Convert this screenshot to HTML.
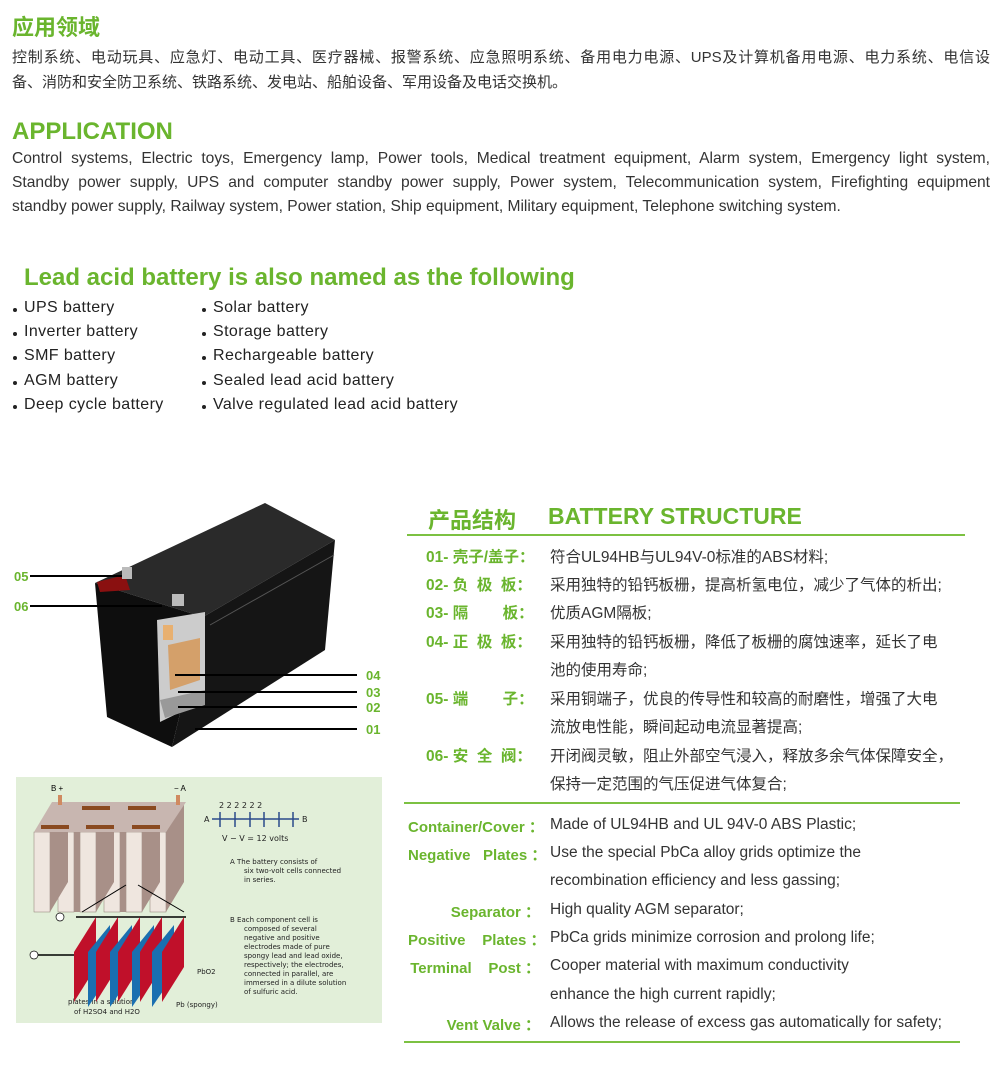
<!DOCTYPE html>
<html><head><meta charset="utf-8">
<style>
*{margin:0;padding:0;box-sizing:border-box}
body{width:1000px;height:1075px;background:#fff;position:relative;overflow:hidden;font-family:"Liberation Sans","Noto Sans CJK SC",sans-serif;color:#333}
.a{position:absolute;white-space:nowrap}
.g{color:#6ab52e;font-weight:bold}
.j{position:absolute;left:12px;width:978px;text-align:justify;text-align-last:justify;font-size:15px;white-space:nowrap;letter-spacing:0}
.je{font-size:15.6px}
.li{position:absolute;font-size:16px;color:#222;letter-spacing:.4px}
.li:before{content:"";position:absolute;left:-11px;top:9px;width:4px;height:4px;border-radius:50%;background:#222}
.cl{position:absolute;left:426px;width:118px;font-size:15.5px;color:#6ab52e;font-weight:bold}
.ct{position:absolute;left:550px;font-size:15.5px;color:#333;white-space:nowrap}
.el{position:absolute;left:408px;width:132px;text-align:right;font-size:15px;color:#6ab52e;font-weight:bold;white-space:nowrap}
.hr{position:absolute;height:2px;background:#7cc142}
</style></head><body>
<div class="a g" style="left:12px;top:10px;font-size:22px">应用领域</div>
<div class="j" style="top:46px">控制系统、电动玩具、应急灯、电动工具、医疗器械、报警系统、应急照明系统、备用电力电源、UPS及计算机备用电源、电力系统、电信设</div>
<div class="a" style="left:12px;top:71px;font-size:15px">备、消防和安全防卫系统、铁路系统、发电站、船舶设备、军用设备及电话交换机。</div>

<div class="a g" style="left:12px;top:118px;font-size:24px">APPLICATION</div>
<div class="j je" style="top:150px">Control systems, Electric toys, Emergency lamp, Power tools, Medical treatment equipment, Alarm system, Emergency light system,</div>
<div class="j je" style="top:174px">Standby power supply, UPS and computer standby power supply, Power system, Telecommunication system, Firefighting equipment</div>
<div class="a" style="left:12px;top:198px;font-size:15.6px">standby power supply, Railway system, Power station, Ship equipment, Military equipment, Telephone switching system.</div>

<div class="a g" style="left:24px;top:264px;font-size:24px">Lead acid battery is also named as the following</div>
<div class="li" style="left:24px;top:299px">UPS battery</div>
<div class="li" style="left:24px;top:323px">Inverter battery</div>
<div class="li" style="left:24px;top:347px">SMF battery</div>
<div class="li" style="left:24px;top:372px">AGM battery</div>
<div class="li" style="left:24px;top:396px">Deep cycle battery</div>
<div class="li" style="left:213px;top:299px">Solar battery</div>
<div class="li" style="left:213px;top:323px">Storage battery</div>
<div class="li" style="left:213px;top:347px">Rechargeable battery</div>
<div class="li" style="left:213px;top:372px">Sealed lead acid battery</div>
<div class="li" style="left:213px;top:396px">Valve regulated lead acid battery</div>

<!-- battery picture -->
<svg class="a" style="left:0;top:490px" width="400" height="280" viewBox="0 490 400 280">
<polygon points="95,583 265,503 335,540 203,617" fill="#2a2a2a"/>
<polygon points="203,617 335,540 325,650 172,747" fill="#151515"/>
<polygon points="95,583 203,617 172,747 107,717" fill="#0e0e0e"/>
<line x1="210" y1="625" x2="334" y2="555" stroke="#555" stroke-width="1"/>
<polygon points="97,582 125,575 130,590 100,592" fill="#8a1010"/>
<rect x="122" y="567" width="10" height="12" fill="#bbb"/>
<rect x="172" y="594" width="12" height="12" fill="#bbb"/>
<polygon points="157,620 205,612 205,700 160,722" fill="#ccc"/>
<polygon points="168,645 200,638 200,680 170,690" fill="#d4a06a"/>
<rect x="163" y="625" width="10" height="15" fill="#e8b070"/>
<polygon points="160,700 205,690 205,705 165,718" fill="#999"/>
<g stroke="#000" stroke-width="2">
<line x1="30" y1="576" x2="122" y2="576"/><line x1="30" y1="606" x2="162" y2="606"/>
<line x1="175" y1="675" x2="357" y2="675"/><line x1="178" y1="692" x2="357" y2="692"/>
<line x1="178" y1="707" x2="357" y2="707"/><line x1="195" y1="729" x2="357" y2="729"/>
</g>
<g fill="#6ab52e" font-weight="bold" font-size="13" font-family="Liberation Sans">
<text x="14" y="581">05</text><text x="14" y="611">06</text>
<text x="366" y="680">04</text><text x="366" y="697">03</text><text x="366" y="712">02</text><text x="366" y="734">01</text>
</g>
</svg>

<!-- diagram -->
<svg class="a" style="left:16px;top:777px" width="366" height="246" viewBox="0 0 366 246">
<rect width="366" height="246" fill="#e2efd9"/>
<g fill="#efe6df" stroke="#8a7a70" stroke-width=".5">
<rect x="18" y="55" width="16" height="80"/><rect x="42" y="55" width="16" height="80"/>
<rect x="64" y="55" width="16" height="80"/><rect x="88" y="55" width="16" height="80"/>
<rect x="110" y="55" width="16" height="80"/><rect x="134" y="55" width="16" height="80"/>
</g>
<g fill="#a89088">
<polygon points="34,55 52,25 52,105 34,135"/><polygon points="80,55 98,25 98,105 80,135"/>
<polygon points="126,55 144,25 144,105 126,135"/><polygon points="150,55 168,25 168,105 150,135"/>
<polygon points="58,55 64,45 64,135 58,135"/><polygon points="104,55 110,45 110,135 104,135"/>
</g>
<g fill="#c8b6b0"><polygon points="18,55 36,25 170,25 150,55"/></g>
<g fill="#8a4a20"><rect x="25" y="48" width="28" height="4"/><rect x="70" y="48" width="28" height="4"/><rect x="116" y="48" width="28" height="4"/><rect x="66" y="29" width="28" height="4"/><rect x="112" y="29" width="28" height="4"/></g>
<rect x="42" y="18" width="4" height="10" fill="#d08a60"/><rect x="160" y="18" width="4" height="10" fill="#d08a60"/>
<text x="35" y="14" font-size="8">B +</text><text x="158" y="14" font-size="8">− A</text>
<line x1="196" y1="42" x2="283" y2="42" stroke="#2a4a8a" stroke-width="1.5"/>
<g stroke="#2a4a8a" stroke-width="1.5"><line x1="204" y1="35" x2="204" y2="50"/><line x1="219" y1="35" x2="219" y2="50"/><line x1="234" y1="35" x2="234" y2="50"/><line x1="248" y1="35" x2="248" y2="50"/><line x1="263" y1="35" x2="263" y2="50"/><line x1="277" y1="35" x2="277" y2="50"/></g>
<g font-size="8" font-family="DejaVu Sans" fill="#222">
<text x="203" y="31">2  2  2  2  2  2</text><text x="188" y="45">A</text><text x="286" y="45">B</text>
<text x="206" y="64">V  − V  = 12 volts</text>
<text x="214" y="87" font-size="7">A  The battery consists of</text><text x="228" y="96" font-size="7">six two-volt cells connected</text><text x="228" y="105" font-size="7">in series.</text>
<text x="214" y="145" font-size="7">B  Each component cell is</text>
<text x="228" y="154" font-size="7">composed of several</text><text x="228" y="163" font-size="7">negative and positive</text><text x="228" y="172" font-size="7">electrodes made of pure</text><text x="228" y="181" font-size="7">spongy lead and lead oxide,</text><text x="228" y="190" font-size="7">respectively; the electrodes,</text><text x="228" y="199" font-size="7">connected in parallel, are</text><text x="228" y="208" font-size="7">immersed in a dilute solution</text><text x="228" y="217" font-size="7">of sulfuric acid.</text>
<text x="181" y="197" font-size="7">PbO2</text><text x="160" y="230" font-size="7">Pb (spongy)</text>
<text x="52" y="227" font-size="7">plates in a solution</text><text x="58" y="237" font-size="7">of H2SO4 and H2O</text>
</g>
<line x1="110" y1="108" x2="66" y2="135" stroke="#000"/><line x1="122" y1="108" x2="168" y2="135" stroke="#000"/>
<line x1="60" y1="140" x2="170" y2="140" stroke="#000" stroke-width="1.5"/>
<line x1="14" y1="178" x2="135" y2="178" stroke="#000" stroke-width="1.5"/>
<circle cx="44" cy="140" r="4" fill="#fff" stroke="#000" stroke-width=".7"/><circle cx="18" cy="178" r="4" fill="#fff" stroke="#000" stroke-width=".7"/>
<g>
<polygon points="58,175 80,140 80,190 58,225" fill="#c0102a"/><polygon points="72,175 94,148 94,198 72,230" fill="#1a6fb0"/>
<polygon points="80,175 102,140 102,190 80,225" fill="#c0102a"/><polygon points="94,175 116,148 116,198 94,230" fill="#1a6fb0"/>
<polygon points="102,175 124,140 124,190 102,225" fill="#c0102a"/><polygon points="116,175 138,148 138,198 116,230" fill="#1a6fb0"/>
<polygon points="124,175 146,140 146,190 124,225" fill="#c0102a"/><polygon points="136,175 158,148 158,198 136,230" fill="#1a6fb0"/>
<polygon points="146,175 168,140 168,190 146,225" fill="#c0102a"/>
</g>
</svg>

<!-- structure -->
<div class="a g" style="left:428px;top:503px;font-size:22px">产品结构</div>
<div class="a g" style="left:548px;top:503px;font-size:23px">BATTERY STRUCTURE</div>
<div class="hr" style="left:407px;top:534px;width:558px"></div>

<div class="cl" style="top:545px">01- 壳子/盖子：</div><div class="ct" style="top:545px">符合UL94HB与UL94V-0标准的ABS材料;</div>
<div class="cl" style="top:573px">02- 负&nbsp;&nbsp;极&nbsp;&nbsp;板：</div><div class="ct" style="top:573px">采用独特的铅钙板栅，提高析氢电位，减少了气体的析出;</div>
<div class="cl" style="top:601px">03- 隔&nbsp;&nbsp;&nbsp;&nbsp;&nbsp;&nbsp;&nbsp;&nbsp;板：</div><div class="ct" style="top:601px">优质AGM隔板;</div>
<div class="cl" style="top:630px">04- 正&nbsp;&nbsp;极&nbsp;&nbsp;板：</div><div class="ct" style="top:630px">采用独特的铅钙板栅，降低了板栅的腐蚀速率，延长了电</div>
<div class="ct" style="top:658px">池的使用寿命;</div>
<div class="cl" style="top:687px">05- 端&nbsp;&nbsp;&nbsp;&nbsp;&nbsp;&nbsp;&nbsp;&nbsp;子：</div><div class="ct" style="top:687px">采用铜端子，优良的传导性和较高的耐磨性，增强了大电</div>
<div class="ct" style="top:715px">流放电性能，瞬间起动电流显著提高;</div>
<div class="cl" style="top:744px">06- 安&nbsp;&nbsp;全&nbsp;&nbsp;阀：</div><div class="ct" style="top:744px">开闭阀灵敏，阻止外部空气浸入，释放多余气体保障安全，</div>
<div class="ct" style="top:772px">保持一定范围的气压促进气体复合;</div>
<div class="hr" style="left:404px;top:802px;width:556px"></div>

<div class="el" style="top:816px">Container/Cover ：</div><div class="ct" style="top:816px">Made of UL94HB and UL 94V-0 ABS Plastic;</div>
<div class="el" style="top:844px">Negative&nbsp;&nbsp;&nbsp;Plates ：</div><div class="ct" style="top:844px">Use the special PbCa alloy grids optimize the</div>
<div class="ct" style="top:872px">recombination efficiency and less gassing;</div>
<div class="el" style="top:901px">Separator ：</div><div class="ct" style="top:901px">High quality AGM separator;</div>
<div class="el" style="top:929px">Positive&nbsp;&nbsp;&nbsp;&nbsp;Plates ：</div><div class="ct" style="top:929px">PbCa grids minimize corrosion and prolong life;</div>
<div class="el" style="top:957px">Terminal&nbsp;&nbsp;&nbsp;&nbsp;Post ：</div><div class="ct" style="top:957px">Cooper material with maximum conductivity</div>
<div class="ct" style="top:986px">enhance the high current rapidly;</div>
<div class="el" style="top:1014px">Vent Valve ：</div><div class="ct" style="top:1014px">Allows the release of excess gas automatically for safety;</div>
<div class="hr" style="left:404px;top:1041px;width:556px"></div>
</body></html>
